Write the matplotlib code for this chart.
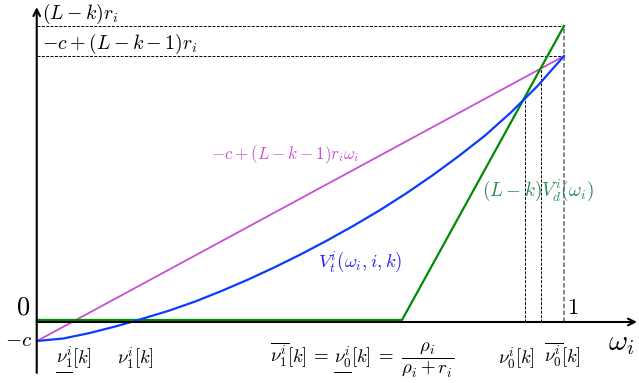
import matplotlib
matplotlib.use("Agg")
import matplotlib.pyplot as plt

plt.rcParams['mathtext.fontset'] = 'cm'
plt.rcParams['font.family'] = ['DejaVu Serif']

# ---- data ----
c = 1.0
top_green = 14.0          # (L-k) r_i
top_magenta = 12.57       # -c + (L-k-1) r_i
kink = 0.6926             # rho_i / (rho_i + r_i)
nu0 = 0.926
nu0_bar = 0.956

green_x = [0.0, kink, 1.0]
green_y = [0.0, 0.0, top_green]

magenta_x = [0.0, 1.0]
magenta_y = [-c, top_magenta]

blue_x = [0.00, 0.05, 0.10, 0.15, 0.20, 0.25, 0.30, 0.35, 0.40, 0.45, 0.50,
          0.55, 0.60, 0.65, 0.70, 0.75, 0.80, 0.85, 0.90, 0.95, 1.00]
blue_y = [-1.00, -0.88, -0.62, -0.30, 0.06, 0.44, 0.88, 1.38, 1.92, 2.50, 3.12,
          3.78, 4.48, 5.22, 6.02, 6.88, 7.80, 8.78, 9.90, 11.15, 12.57]

# ---- figure ----
fig = plt.figure(figsize=(6.39, 3.83), dpi=100)
ax = fig.add_axes([0, 0, 1, 1])
ax.set_xlim(-0.0702, 1.1423)
ax.set_ylim(-3.0, 15.238)
ax.axis('off')

axis_y = -0.095

# dashed guides
dash = dict(color='black', lw=0.7, ls=(0, (3, 1.5)))
ax.plot([0, 1], [top_green, top_green], **dash)
ax.plot([0, 1], [top_magenta, top_magenta], **dash)
ax.plot([1, 1], [axis_y, top_green], color='#666666', lw=1.1, ls=(0, (3, 1.5)))
ax.plot([nu0, nu0], [axis_y, 10.6], **dash)
ax.plot([nu0_bar, nu0_bar], [axis_y, 11.95], **dash)

# curves
ax.plot(green_x, green_y, color='#008c00', lw=1.6, zorder=4)
ax.plot(magenta_x, magenta_y, color='#c84fd3', lw=1.3, zorder=3)
ax.plot(blue_x, blue_y, color='#0a3cff', lw=1.6, zorder=5)

# axes arrows
ax.annotate('', xy=(1.1385, axis_y), xytext=(-0.0005, axis_y),
            arrowprops=dict(arrowstyle='->', lw=1.5, color='black', mutation_scale=12,
                            shrinkA=0, shrinkB=0), zorder=6)
ax.annotate('', xy=(-0.0005, 14.9), xytext=(-0.0005, -2.52),
            arrowprops=dict(arrowstyle='->', lw=1.5, color='black', mutation_scale=12,
                            shrinkA=0, shrinkB=0), zorder=6)

# labels
ax.text(0.0095, 14.57, r'$(L-k)r_i$', fontsize=14.3, ha='left', va='center')
ax.text(0.0095, 13.15, r'$-c+(L-k-1)r_i$', fontsize=14.3, ha='left', va='center')
ax.text(-0.013, 0.6, r'$0$', fontsize=19, ha='right', va='center')
ax.text(-0.009, -1.0, r'$-c$', fontsize=15, ha='right', va='center')
ax.text(1.006, 0.55, r'$1$', fontsize=16.5, ha='left', va='center')
ax.text(1.084, -1.1, r'$\omega_i$', fontsize=21, ha='left', va='center')

ax.text(0.4706, 7.86, r'$-c+(L-k-1)r_i\omega_i$', fontsize=12.2, color='#c84fd3',
        ha='center', va='center')
ax.text(0.613, 2.76, r'$V_t^i(\omega_i, i, k)$', fontsize=13.6, color='#2020ff',
        ha='center', va='center')
ax.text(0.951, 6.19, r'$(L-k)V_d^i(\omega_i)$', fontsize=13.8, color='#2e8b57',
        ha='center', va='center')

# bottom labels, composed of parts so some can be underlined
renderer = fig.canvas.get_renderer()
inv = ax.transData.inverted()


def compose(xc, yb, parts, fs=13.5):
    texts = []
    for s, ul, gap in parts:
        t = ax.text(0, yb, s, fontsize=fs, ha='left', va='baseline')
        texts.append((t, ul, gap))
    widths = []
    for t, _, gap in texts:
        bb = t.get_window_extent(renderer)
        widths.append(bb.width + gap)
    total = sum(widths)
    x0_disp = ax.transData.transform((xc, yb))[0] - total / 2
    for (t, ul, gap), w in zip(texts, widths):
        xd = inv.transform((x0_disp, 0))[0]
        t.set_x(xd)
        if ul:
            bb = t.get_window_extent(renderer)
            (xa, ya) = inv.transform((bb.x0 + 0.5, bb.y0 - 1.5))
            (xb, _) = inv.transform((bb.x1 - 0.5, bb.y0 - 1.5))
            ax.plot([xa, xb], [ya, ya], color='black', lw=0.7)
        x0_disp += w


yb = -2.05
compose(0.070, yb, [(r'$\nu_1^i$', True, 0), (r'$[k]$', False, 0)])
compose(0.186, yb, [(r'$\nu_1^i[k]$', False, 0)])
compose(0.617, yb, [(r'$\overline{\nu_1^i}[k]\,=$', False, 5), (r'$\nu_0^i$', True, 0),
                    (r'$[k]\;=\;\dfrac{\rho_i}{\rho_i+r_i}$', False, 0)])
compose(0.909, yb, [(r'$\nu_0^i[k]$', False, 0)])
compose(0.997, yb, [(r'$\overline{\nu_0^i}[k]$', False, 0)])

fig.savefig('out.png', dpi=100)
